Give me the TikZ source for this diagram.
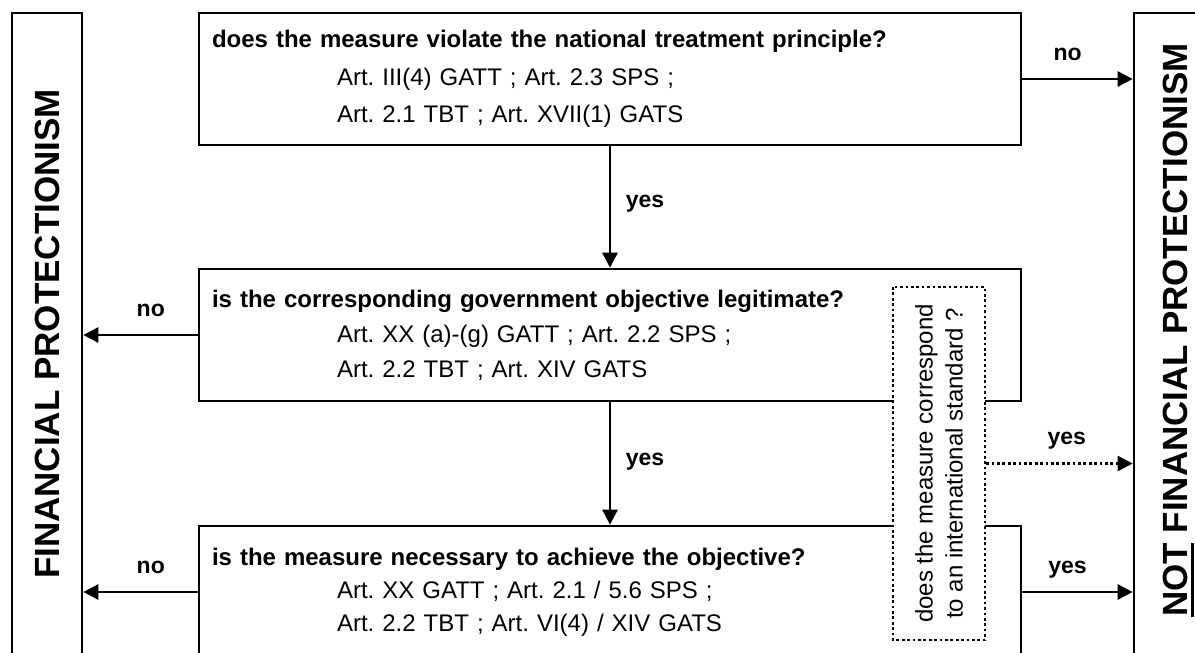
\documentclass[tikz,border=0pt]{standalone}
\usepackage{fontspec}
\setmainfont{Liberation Sans}
\usetikzlibrary{arrows.meta}
\frenchspacing
\newcommand\ulword[1]{\setbox0\hbox{#1}\rlap{\rule[-7pt]{\wd0}{2.6pt}}\box0\relax}
\tikzset{
  qbox/.style={draw, line width=2.6pt, minimum width=822pt, minimum height=132pt,
    text width=796pt, inner xsep=13pt, inner ysep=0pt, align=left},
  endbox/.style={draw, line width=2.6pt, inner sep=0pt},
  bigtxt/.style={font=\fontsize{35}{40}\selectfont\bfseries, rotate=90, inner sep=0pt},
  lbl/.style={font=\fontsize{23}{26}\selectfont\bfseries, inner sep=0pt, anchor=base},
  arr/.style={line width=2.6pt, -{Triangle[length=15pt,width=15pt]}},
  dotarr/.style={arr, dash pattern=on 2.7pt off 2.7pt},
  dotbox/.style={draw, line width=2.4pt, dash pattern=on 2.7pt off 2.7pt, fill=white,
    rotate=90, minimum width=353pt, minimum height=92pt, align=center, inner sep=0pt,
    font=\fontsize{24}{30}\selectfont}
}
\begin{document}
\begin{tikzpicture}[x=1pt,y=-1pt]
\useasboundingbox (0,0) rectangle (1195,653);
\clip (0,0) rectangle (1195,653);
% end boxes
\node[endbox, minimum width=70pt, minimum height=647pt] (fp) at (47,336.5) {};
\node[bigtxt] (fptxt) at (47,334) {FINANCIAL PROTECTIONISM};
\node[endbox, minimum width=76pt, minimum height=647pt] (np) at (1172,336.5) {};
\node[bigtxt, anchor=base] (nptxt) at (1187,330) {\ulword{NOT} FINANCIAL PROTECTIONISM};
% question boxes
\node[qbox, font=\fontsize{24}{37.5}\selectfont] (q1) at (610,79)
  {\textbf{does the measure violate the national treatment principle?}\\
   \hspace*{125pt}Art. III(4) GATT ; Art. 2.3 SPS ;\\
   \hspace*{125pt}Art. 2.1 TBT ; Art. XVII(1) GATS};
\node[qbox, font=\fontsize{24}{35}\selectfont] (q2) at (610,335)
  {\textbf{is the corresponding government objective legitimate?}\\
   \hspace*{125pt}Art. XX (a)-(g) GATT ; Art. 2.2 SPS ;\\
   \hspace*{125pt}Art. 2.2 TBT ; Art. XIV GATS};
\node[qbox, font=\fontsize{24}{33}\selectfont] (q3) at (610,592)
  {\textbf{is the measure necessary to achieve the objective?}\\
   \hspace*{125pt}Art. XX GATT ; Art. 2.1 / 5.6 SPS ;\\
   \hspace*{125pt}Art. 2.2 TBT ; Art. VI(4) / XIV GATS};
% dotted box
\node[dotbox] (dq) at (939,463.5) {does the measure correspond\\to an international standard ?};
% connectors
\draw[arr] (q1.east) -- node[lbl, pos=0.41, yshift=19pt] {no} (q1.east -| np.west);
\draw[arr] (q1.south) -- node[lbl, xshift=35pt] {yes} (q2.north);
\draw[arr] (q2.west) -- node[lbl, pos=0.41, yshift=19pt] {no} (q2.west -| fp.east);
\draw[arr] (q2.south) -- node[lbl, xshift=35pt, yshift=-2pt] {yes} (q3.north);
\draw[arr] (q3.west) -- node[lbl, pos=0.41, yshift=19pt] {no} (q3.west -| fp.east);
\draw[arr] (q3.east) -- node[lbl, pos=0.41, yshift=19pt] {yes} (q3.east -| np.west);
\draw[dotarr] (dq.south) -- node[lbl, pos=0.55, yshift=19pt] {yes} (dq.south -| np.west);
\end{tikzpicture}
\end{document}
